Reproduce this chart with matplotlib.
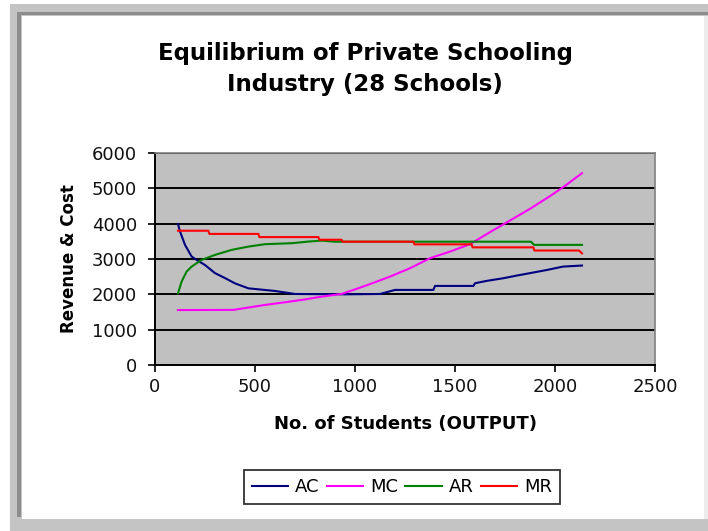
import matplotlib
matplotlib.use("Agg")
import matplotlib.pyplot as plt
from matplotlib.patches import Rectangle

# Industry cost and revenue schedules (students vs. dollars)
ac_x = [115, 125, 150, 183, 208, 250, 300, 350, 400, 467, 600, 700, 950, 1125,
        1200, 1392, 1400, 1592, 1600, 1658, 1742, 1808, 1875, 1960, 2040, 2135]
ac_y = [3990, 3780, 3400, 3070, 2975, 2830, 2600, 2460, 2310, 2170, 2095, 2010,
        2000, 2010, 2125, 2125, 2238, 2238, 2314, 2380, 2456, 2530, 2600, 2690,
        2785, 2815]

mc_x = [115, 392, 550, 650, 733, 833, 933, 1000, 1075, 1175, 1275, 1375, 1475,
        1575, 1675, 1775, 1875, 1975, 2050, 2135]
mc_y = [1555, 1560, 1700, 1776, 1841, 1935, 2011, 2140, 2290, 2502, 2739, 3022,
        3210, 3420, 3760, 4090, 4420, 4780, 5070, 5430]

ar_x = [115, 133, 158, 183, 233, 300, 383, 467, 550, 683, 767, 833, 900, 1880,
        1895, 2135]
ar_y = [2030, 2360, 2643, 2785, 2975, 3116, 3258, 3351, 3419, 3447, 3493, 3520,
        3490, 3490, 3400, 3400]

mr_x = [115, 267, 272, 517, 522, 817, 822, 933, 938, 1292, 1297, 1583, 1588,
        1892, 1897, 2120, 2135]
mr_y = [3800, 3800, 3710, 3710, 3620, 3620, 3545, 3545, 3490, 3490, 3415, 3415,
        3330, 3330, 3240, 3240, 3160]

series_labels = ["AC", "MC", "AR", "MR"]
series_colors = ["#000080", "#FF00FF", "#008000", "#FF0000"]

x_ticks = [0, 500, 1000, 1500, 2000, 2500]
y_ticks = [0, 1000, 2000, 3000, 4000, 5000, 6000]

title_text = "Equilibrium of Private Schooling\nIndustry (28 Schools)"
x_label = "No. of Students (OUTPUT)"
y_label = "Revenue & Cost"

plt.rcParams["font.family"] = ["DejaVu Sans"]

W, H = 708, 531
fig = plt.figure(figsize=(W / 100, H / 100), dpi=100)
fig.patch.set_facecolor("white")

# window frame around the chart
def frame(x0, y0, x1, y1, color):
    fig.patches.append(Rectangle((x0 / W, 1 - y1 / H), (x1 - x0) / W, (y1 - y0) / H,
                                 transform=fig.transFigure, facecolor=color,
                                 edgecolor="none", zorder=0))

frame(10, 4, 708, 16, "#c4c4c4")
frame(10, 4, 22, 531, "#c4c4c4")
frame(10, 519, 708, 531, "#c4c4c4")
frame(17, 12, 708, 15, "#8c8c8c")
frame(17, 12, 21, 517, "#8c8c8c")
frame(704, 16, 708, 519, "#ececec")

ax = fig.add_axes([155 / W, 1 - 365 / H, 500 / W, 212 / H])
ax.set_facecolor("#C0C0C0")

series = [(ac_x, ac_y), (mc_x, mc_y), (ar_x, ar_y), (mr_x, mr_y)]
for (xs, ys), lab, col in zip(series, series_labels, series_colors):
    ax.plot(xs, ys, color=col, lw=1.5, label=lab, zorder=3)

ax.set_xlim(0, 2500)
ax.set_ylim(0, 6000)
ax.set_xticks(x_ticks)
ax.set_yticks(y_ticks)
ax.set_xticklabels([str(v) for v in x_ticks])
ax.set_yticklabels([str(v) for v in y_ticks])
ax.yaxis.grid(True, color="black", lw=1.4, zorder=1)
ax.set_axisbelow(True)
ax.tick_params(axis="both", direction="out", length=5, width=1.2, color="black",
               labelsize=13, labelcolor="#111111")
ax.tick_params(axis="x", pad=4)
ax.tick_params(axis="y", pad=8)
for side in ["left", "bottom"]:
    ax.spines[side].set_color("black")
    ax.spines[side].set_linewidth(1.4)
for side in ["top", "right"]:
    ax.spines[side].set_color("#808080")
    ax.spines[side].set_linewidth(1.2)

ax.set_xlabel(x_label, fontsize=13, fontweight="bold", labelpad=14)
ax.set_ylabel(y_label, fontsize=12, fontweight="bold", labelpad=10)

fig.text(365 / W, 1 - 69 / H, title_text, ha="center", va="center",
         fontsize=16.5, fontweight="bold", linespacing=1.45)

leg = ax.legend(loc="center", bbox_to_anchor=(402 / W, 1 - 487 / H),
                bbox_transform=fig.transFigure, ncol=4, frameon=True,
                fancybox=False, edgecolor="black", fontsize=13,
                handlelength=2.0, handletextpad=0.4, columnspacing=0.4,
                borderpad=0.45, borderaxespad=0.0)
leg.get_frame().set_linewidth(1.3)

fig.savefig("out.png", dpi=100, facecolor="white")
